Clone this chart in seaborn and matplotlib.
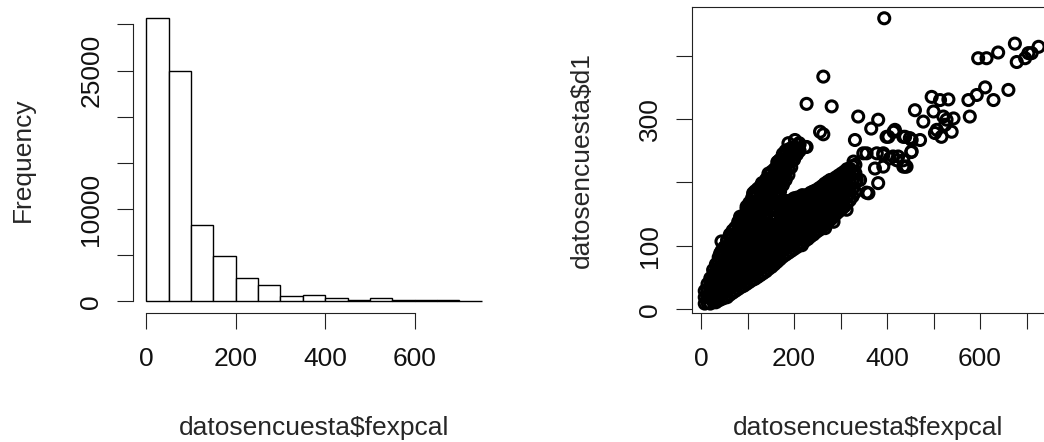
import numpy as np
import pandas as pd
import seaborn as sns
import matplotlib
matplotlib.use('Agg')
import matplotlib.pyplot as plt

# left panel: hist(datosencuesta$fexpcal), bins of width 50
hist_edges = [0, 50, 100, 150, 200, 250, 300, 350, 400, 450, 500, 550, 600, 650, 700, 750]
hist_counts = [30650, 24950, 8280, 4860, 2520, 1760, 575, 720, 360, 110, 320, 150, 130, 100, 80]
hist_xticks = [0, 200, 400, 600]
hist_yticks = [0, 5000, 10000, 15000, 20000, 25000, 30000]
hist_ylabels = ['0', '', '10000', '', '', '25000', '']

# right panel: plot(datosencuesta$fexpcal, datosencuesta$d1)
# dense core, read column by column (fexpcal, [d1 values])
core_cols = [
    (8, [9, 19, 29]),
    (14, [10, 20, 30, 40]),
    (20, [9, 19, 29, 39, 49]),
    (26, [12, 22, 32, 42, 52, 62]),
    (32, [11, 21, 31, 41, 51, 61, 71]),
    (38, [14, 24, 34, 44, 54, 64, 74, 82]),
    (44, [16, 26, 36, 46, 56, 66, 76, 86, 92]),
    (50, [18, 28, 38, 48, 58, 68, 78, 88, 98]),
    (56, [19, 29, 39, 49, 59, 69, 79, 89, 99, 109]),
    (62, [23, 33, 43, 53, 63, 73, 83, 93, 103, 113, 118]),
    (68, [26, 36, 46, 56, 66, 76, 86, 96, 106, 116, 124]),
    (74, [29, 39, 49, 59, 69, 79, 89, 99, 109, 119, 129]),
    (80, [32, 42, 52, 62, 72, 82, 92, 102, 112, 122, 132, 138]),
    (86, [35, 45, 55, 65, 75, 85, 95, 105, 115, 125, 135, 143]),
    (92, [37, 47, 57, 67, 77, 87, 97, 107, 117, 127, 137, 147]),
    (98, [40, 50, 60, 70, 80, 90, 100, 110, 120, 130, 140, 150, 158]),
    (104, [43, 53, 63, 73, 83, 93, 103, 113, 123, 133, 143, 153, 163, 168]),
    (110, [46, 56, 66, 76, 86, 96, 106, 116, 126, 136, 146, 156, 166, 176]),
    (116, [48, 58, 68, 78, 88, 98, 108, 118, 128, 138, 148, 158, 168, 178, 186]),
    (122, [51, 61, 71, 81, 91, 101, 111, 121, 131, 141, 151, 161, 171, 181, 190]),
    (128, [54, 64, 74, 84, 94, 104, 114, 124, 134, 144, 154, 164, 174, 184, 194]),
    (134, [57, 67, 77, 87, 97, 107, 117, 127, 137, 147, 157, 167, 177, 187, 197]),
    (140, [60, 70, 80, 90, 100, 110, 120, 130, 140, 150, 160, 170, 180, 190, 200, 205]),
    (146, [64, 74, 84, 94, 104, 114, 124, 134, 164, 174, 184, 194, 204, 212]),
    (152, [67, 77, 87, 97, 107, 117, 127, 157, 167, 177, 187, 197, 207, 217]),
    (158, [71, 81, 91, 101, 111, 121, 131, 141, 161, 171, 181, 191, 201, 211, 221]),
    (164, [75, 85, 95, 105, 115, 125, 135, 145, 155, 165, 175, 185, 195, 205, 215, 225, 232]),
    (170, [79, 89, 99, 109, 119, 129, 139, 149, 159, 168, 186, 196, 206, 216, 226, 236]),
    (176, [83, 93, 103, 113, 123, 133, 143, 153, 163, 170, 196, 206, 216, 226, 236, 245]),
    (182, [86, 96, 106, 116, 126, 136, 146, 156, 166, 171, 204, 214, 224, 234, 244, 250]),
    (188, [89, 99, 109, 119, 129, 139, 149, 159, 169, 212, 222, 232, 242, 252]),
    (194, [92, 102, 112, 122, 132, 142, 152, 162, 172, 224, 234, 244, 254]),
    (200, [95, 105, 115, 125, 135, 145, 155, 165, 175, 236, 246, 256]),
    (206, [98, 108, 118, 128, 138, 148, 158, 168, 176, 244, 254]),
    (212, [101, 111, 121, 131, 141, 151, 161, 171, 177, 250, 260]),
    (218, [104, 114, 124, 134, 144, 154, 164, 174, 180]),
    (224, [108, 118, 128, 138, 148, 158, 168, 178]),
    (230, [111, 121, 131, 141, 151, 161, 171, 181]),
    (236, [115, 125, 135, 145, 155, 165, 175, 184]),
    (242, [118, 128, 138, 148, 158, 168, 178, 186]),
    (248, [122, 132, 142, 152, 162, 172, 182, 188]),
    (254, [125, 135, 145, 155, 165, 175, 185, 191]),
    (260, [129, 139, 149, 159, 169, 179, 189, 194]),
    (266, [133, 143, 153, 163, 173, 183, 193, 198]),
    (272, [137, 147, 157, 167, 177, 187, 197, 201]),
    (278, [141, 151, 161, 171, 181, 191, 201, 204]),
    (284, [145, 155, 165, 175, 185, 195, 205]),
    (290, [150, 160, 170, 180, 190, 200, 208]),
    (296, [154, 164, 174, 184, 194, 204, 211]),
    (302, [158, 168, 178, 188, 198, 208, 214]),
    (308, [162, 172, 182, 192, 202, 212, 217]),
    (314, [167, 177, 187, 197, 207, 217, 221]),
    (320, [172, 182, 192, 202, 212, 222]),
    (326, [178, 190, 202, 214, 226]),
    (332, [185, 200, 215, 228]),
]

# separate circles around the core
sparse_pts = [
    (394, 459), (263, 367), (227, 324), (281, 320), (256, 280), (263, 276),
    (338, 304), (381, 299), (366, 285), (331, 267), (399, 272), (414, 280),
    (435, 272), (449, 270), (471, 267), (460, 314), (478, 296), (496, 335),
    (500, 312), (514, 330), (532, 331), (507, 283), (517, 272), (528, 299),
    (543, 301), (539, 280), (525, 291), (575, 330), (578, 304), (593, 338),
    (611, 350), (629, 330), (661, 346), (596, 396), (614, 396), (639, 405),
    (675, 419), (679, 390), (697, 396), (704, 404), (726, 414), (521, 304),
    (503, 278), (453, 267), (453, 249), (435, 235), (439, 225), (413, 241),
    (392, 246), (392, 225), (403, 272), (711, 404),
    (202, 267), (188, 262), (224, 256), (191, 246), (166, 233), (184, 228),
    (145, 214), (131, 199), (163, 199), (112, 183), (170, 175), (198, 170),
    (217, 167), (98, 162), (84, 146), (70, 125), (44, 107), (41, 88),
    (211, 262), (227, 256), (170, 235), (148, 214),
    (349, 246), (328, 233), (378, 246), (392, 243), (421, 235), (435, 225),
    (452, 248), (406, 238), (328, 217), (335, 204), (381, 199), (356, 184),
    (374, 222), (313, 157), (285, 138), (267, 128), (217, 101), (299, 172),
    (285, 204), (302, 207), (356, 246), (442, 225), (424, 241), (360, 183),
    (320, 220), (342, 204), (417, 283), (439, 272),
]

sc_xticks = [0, 100, 200, 300, 400, 500, 600, 700]
sc_xlabels = ['0', '', '200', '', '400', '', '600', '']
sc_yticks = [0, 100, 200, 300, 400]
sc_ylabels = ['0', '100', '', '300', '']

xs, ys = [], []
for cx, col in core_cols:
    xs += [cx] * len(col)
    ys += col
xs += [p[0] for p in sparse_pts]
ys += [p[1] for p in sparse_pts]
df = pd.DataFrame({'fexpcal': xs, 'd1': ys})

sns.set_style('white')
plt.rcParams['font.family'] = ['Liberation Sans', 'DejaVu Sans']
plt.rcParams['font.size'] = 19
plt.rcParams['text.color'] = '#111111'
plt.rcParams['xtick.color'] = '#111111'
plt.rcParams['ytick.color'] = '#111111'

W, H = 1044, 442
fig = plt.figure(figsize=(W / 100, H / 100), dpi=100)
ax1 = fig.add_axes([133 / W, 1 - 312.7 / H, 362 / W, 305.7 / H])
ax2 = fig.add_axes([692 / W, 1 - 312.7 / H, 360 / W, 305.4 / H])

centers = [(a + b) / 2 for a, b in zip(hist_edges[:-1], hist_edges[1:])]
sns.histplot(x=centers, weights=hist_counts, bins=hist_edges, color='white',
             edgecolor='black', linewidth=1.0, alpha=1, ax=ax1)
ax1.set_xlim(-30, 780)
ax1.set_ylim(-0.04 * 30650, 1.04 * 30650)
ax1.spines[['top', 'right']].set_visible(False)
ax1.spines['left'].set_bounds(0, 30000)
ax1.spines['bottom'].set_bounds(0, 600)
ax1.set_xticks(hist_xticks)
ax1.set_xticklabels([str(t) for t in hist_xticks])
ax1.set_yticks(hist_yticks)
ax1.set_yticklabels(hist_ylabels, rotation=90, va='center')

sns.scatterplot(data=df, x='fexpcal', y='d1', s=63, facecolor='none',
                edgecolor='black', linewidth=2.2, ax=ax2)
ax2.set_xlim(-19.4, 754.8)
ax2.set_ylim(-5.4, 476.3)
ax2.set_xticks(sc_xticks)
ax2.set_xticklabels(sc_xlabels)
ax2.set_yticks(sc_yticks)
ax2.set_yticklabels(sc_ylabels, rotation=90, va='center')

for ax, yl in [(ax1, 'Frequency'), (ax2, 'datosencuesta$d1')]:
    ax.set_facecolor('white')
    for sp in ax.spines.values():
        sp.set_linewidth(0.8)
        sp.set_color('#222222')
    ax.tick_params(axis='both', length=11.5, width=0.8, color='#222222',
                   direction='out', bottom=True, left=True)
    ax.tick_params(axis='x', pad=13)
    ax.tick_params(axis='y', pad=10)
    ax.set_xlabel('datosencuesta$fexpcal')
    ax.set_ylabel(yl)
    ax.xaxis.set_label_coords(0.5 if ax is ax1 else 0.49, -0.377)
    ax.xaxis.label.set_va('center')
    ax.yaxis.set_label_coords(-0.305, 0.5)
    ax.yaxis.label.set_va('center')

fig.savefig('out.png', dpi=100)
